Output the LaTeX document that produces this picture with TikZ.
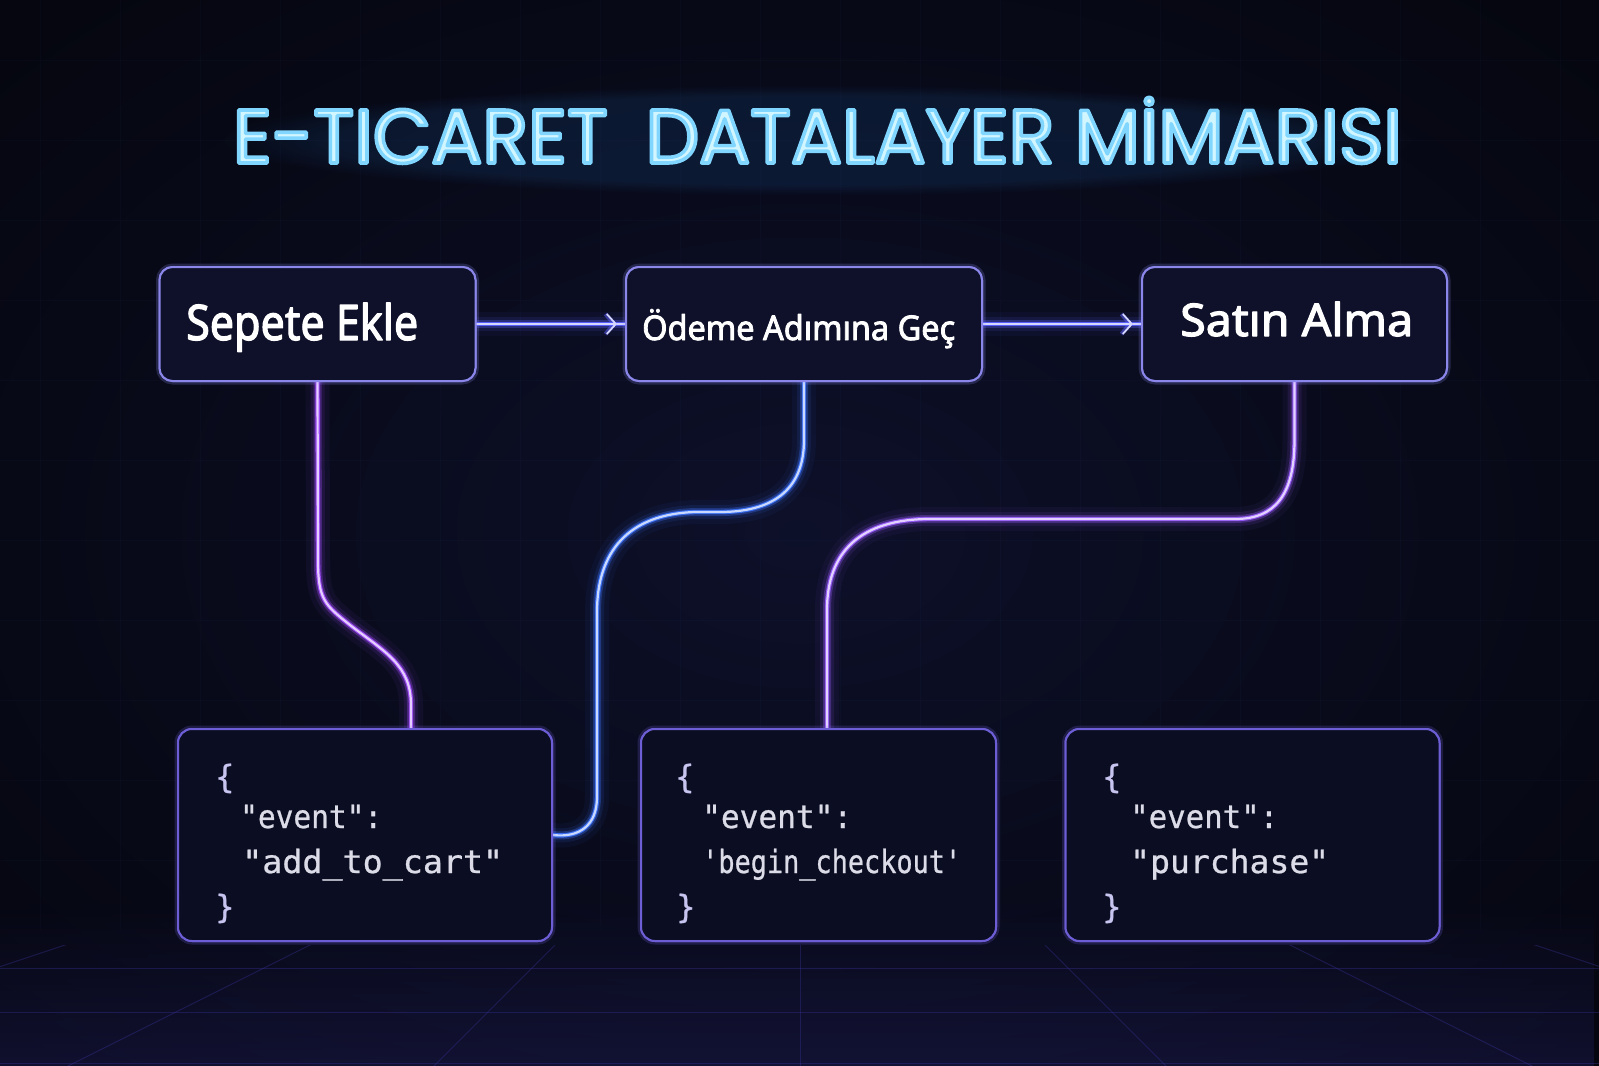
\documentclass[tikz,border=0pt]{standalone}
\usepackage{fontspec}
\usepackage{graphicx}
\usetikzlibrary{arrows.meta,fadings,calc}
\newfontfamily\titlefont{Poppins}
\newfontfamily\boxfont{Noto Sans}[FakeBold=2.5]
\newfontfamily\codefont{DejaVu Sans Mono}[Ligatures=TeXOff,FakeBold=0.8]
\definecolor{bgbase}{HTML}{05060F}
\definecolor{bgin}{HTML}{0D1029}
\definecolor{gridcol}{HTML}{4A55A0}
\definecolor{floorcol}{HTML}{3A34A0}
\definecolor{titlecol}{HTML}{D2F6FF}
\definecolor{titleglow}{HTML}{2E9BFF}
\definecolor{topborder}{HTML}{8A86EA}
\definecolor{topfill}{HTML}{0E1129}
\definecolor{botborder}{HTML}{6E5ED6}
\definecolor{botfill}{HTML}{0B0D22}
\definecolor{lpurple}{HTML}{A24DFF}
\definecolor{lblue}{HTML}{3D74FF}
\definecolor{lviolet}{HTML}{9A5CFF}
\definecolor{larrow}{HTML}{5A60FF}
\definecolor{codecol}{HTML}{DCDCE8}
\definecolor{bracecol}{HTML}{C8C4F0}
\newcommand\neon[2]{%
  \draw[#2, line width=24pt, opacity=0.05] #1;
  \draw[#2, line width=14pt, opacity=0.11] #1;
  \draw[#2, line width=8pt, opacity=0.3] #1;
  \draw[#2, line width=4.4pt, opacity=0.9] #1;
  \draw[white!72!#2, line width=2.2pt] #1;
}
% title: fill + coloured outline via text render mode 2
\newcommand\titletext{\resizebox{1169pt}{\height}{\titlefont\fontsize{76}{80}\selectfont
  \special{pdf:literal 2 Tr 3.6 w 0.50 0.84 1 RG}%
  E-TICARET\hspace{0.5em}DATALAYER M\.IMARISI%
  \special{pdf:literal 0 Tr}}}
\tikzset{
  topbox/.style={draw=topborder, line width=2pt, fill=topfill, rounded corners=13pt,
    minimum height=114pt, inner sep=0pt,
    preaction={draw=topborder, line width=7pt, opacity=0.12}},
  botbox/.style={draw=botborder, line width=2pt, fill=botfill, rounded corners=14pt,
    minimum height=212pt, inner sep=0pt,
    preaction={draw=botborder, line width=7pt, opacity=0.12}},
  boxlabel/.style={text=white, inner sep=0pt, anchor=base west, font=\boxfont},
  codeline/.style={text=codecol, inner sep=0pt, anchor=base west, font=\codefont\fontsize{32}{36}\selectfont},
  braceline/.style={codeline, text=bracecol},
  neonround/.style={line cap=round, line join=round},
}
\begin{document}
\begin{tikzpicture}[x=1pt,y=-1pt, neonround]
\useasboundingbox (0,0) rectangle (1599,1066);
% background
\shade[inner color=bgin, outer color=bgbase] (-300,-200) rectangle (1899,1266);
\fill[titleglow, opacity=0.10, path fading=circle with fuzzy edge 20 percent] (220,85) rectangle (1415,195);
\fill[floorcol, opacity=0.22, path fading=north] (0,900) rectangle (1599,1066);
\foreach \gx in {40,120,...,1599} \draw[gridcol, opacity=0.045, line width=0.8pt] (\gx,0) -- (\gx,930);
\foreach \gy in {60,140,...,930} \draw[gridcol, opacity=0.045, line width=0.8pt] (0,\gy) -- (1599,\gy);
% floor grid
\foreach \fy in {968,1012,1063} \draw[floorcol, opacity=0.35, line width=1pt] (0,\fy) -- (1599,\fy);
\begin{scope}
\clip (0,945) rectangle (1599,1066);
\foreach \fx in {-2400,-1800,-1200,-600,0,600,1200,1800,2400}
  \draw[floorcol, opacity=0.35, line width=1pt] (800,700) -- (800+\fx,1300);
\end{scope}
% title
\node[anchor=base, text=titlecol, inner sep=0pt] (title) at (817.5,163) {\titletext};
% boxes
\node[topbox, minimum width=316pt] (s1) at (317.5,324) {};
\node[topbox, minimum width=356pt] (s2) at (804,324) {};
\node[topbox, minimum width=305pt] (s3) at (1294.5,324) {};
\node[botbox, minimum width=374pt] (e1) at (365,835) {};
\node[botbox, minimum width=355pt] (e2) at (818.5,835) {};
\node[botbox, minimum width=374pt] (e3) at (1252.5,835) {};
% connectors
\neon{(s1.east) -- (s2.west)}{larrow}
\neon{(s2.east) -- (s3.west)}{larrow}
\neon{(s1.south) -- (318,560) .. controls (318,600) and (325,605) .. (350,625) .. controls (385,652) and (411,665) .. (411,705) -- (411,0 |- e1.north)}{lpurple}
\neon{(s2.south) -- (804,440) .. controls (804,492) and (770,512) .. (720,512) -- (695,512) .. controls (628,514) and (597,552) .. (597,612) -- (597,797) .. controls (597,825) and (580,838) .. (e1.east)}{lblue}
\neon{(s3.south) -- (1294.5,440) .. controls (1294.5,495) and (1275,519) .. (1235,519) -- (930,519) .. controls (860,519) and (827,552) .. (827,610) -- (827,0 |- e2.north)}{lviolet}
% arrow heads
\draw[larrow, line width=4pt, opacity=0.5, -{Straight Barb[length=9pt,width=20pt]}, shorten >=8pt] (s1.east) -- (s2.west);
\draw[white!75!larrow, line width=1.8pt, -{Straight Barb[length=9pt,width=20pt]}, shorten >=8pt] (s1.east) -- (s2.west);
\draw[larrow, line width=4pt, opacity=0.5, -{Straight Barb[length=9pt,width=20pt]}, shorten >=8pt] (s2.east) -- (s3.west);
\draw[white!75!larrow, line width=1.8pt, -{Straight Barb[length=9pt,width=20pt]}, shorten >=8pt] (s2.east) -- (s3.west);
% redraw box bodies on top of line ends
\node[topbox, minimum width=316pt] at (s1) {};
\node[topbox, minimum width=356pt] at (s2) {};
\node[topbox, minimum width=305pt] at (s3) {};
\node[botbox, minimum width=374pt] at (e1) {};
\node[botbox, minimum width=355pt] at (e2) {};
\node[botbox, minimum width=374pt] at (e3) {};
% labels
\node[boxlabel] (t1) at (186,340) {\resizebox{232pt}{\height}{\fontsize{49}{52}\selectfont Sepete Ekle}};
\node[boxlabel] (t2) at (642,340) {\resizebox{313pt}{\height}{\fontsize{34}{38}\selectfont Ödeme Adımına Geç}};
\node[boxlabel] (t3) at (1180,336) {\resizebox{233pt}{\height}{\fontsize{45}{48}\selectfont Satın Alma}};
% code
\node[braceline] (c1a) at (215,788) {\{};
\node[codeline] (c1b) at (240,828) {\resizebox{142pt}{\height}{"event":}};
\node[codeline] (c1c) at (242,873) {\resizebox{261pt}{\height}{"add\_to\_cart"}};
\node[braceline] (c1d) at (215,918) {\}};
\node[braceline] (c2a) at (675,788) {\{};
\node[codeline] (c2b) at (702,828) {\resizebox{150pt}{\height}{"event":}};
\node[codeline] (c2c) at (702,873) {\resizebox{259pt}{\height}{'begin\_checkout'}};
\node[braceline] (c2d) at (676,918) {\}};
\node[braceline] (c3a) at (1102,788) {\{};
\node[codeline] (c3b) at (1130,828) {\resizebox{148pt}{\height}{"event":}};
\node[codeline] (c3c) at (1130,873) {\resizebox{199pt}{\height}{"purchase"}};
\node[braceline] (c3d) at (1102,918) {\}};
\end{tikzpicture}
\end{document}
